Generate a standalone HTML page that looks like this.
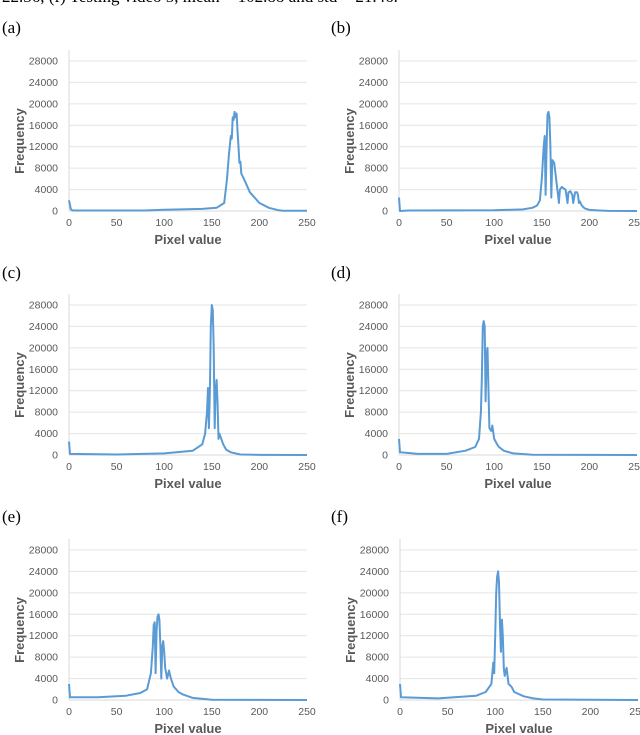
<!DOCTYPE html>
<html><head><meta charset="utf-8">
<style>
body{margin:0;background:#fff;width:640px;height:735px;overflow:hidden;position:relative;font-family:"Liberation Sans",sans-serif}
.lab{position:absolute;font-family:"Liberation Serif",serif;font-size:17px;color:#000}
svg{position:absolute;left:0;top:0}
</style></head><body>
<div class="lab" style="left:2px;top:-13px;white-space:nowrap">22.36, (f) Testing video 5, mean = 102.88 and std = 21.46.</div>
<div class="lab" style="left:2px;top:18px">(a)</div>
<div class="lab" style="left:331px;top:18px">(b)</div>
<div class="lab" style="left:2px;top:263px">(c)</div>
<div class="lab" style="left:331px;top:263px">(d)</div>
<div class="lab" style="left:2px;top:507px">(e)</div>
<div class="lab" style="left:331px;top:507px">(f)</div>
<svg id="s" width="640" height="735"></svg>
<script>
const yTicks=[0,4000,8000,12000,16000,20000,24000,28000];
const xTicks=[0,50,100,150,200,250];
const binsA=[0,2,4,80,100,140,155,163,166,168,170,171,172,173,174,175,176,177,178,179,180,181,185,190,200,210,220,225,250];
const freqA=[2000,300,100,100,250,400,600,1500,6000,10500,14000,13500,17500,17000,18500,17500,18200,15000,12000,9000,9200,7000,5500,3500,1500,600,150,30,30];
const binsB=[0,1,10,100,130,140,145,148,150,152,153,154,155,156,157,158,159,160,161,163,165,167,168,169,171,173,175,177,178,180,182,183,185,187,188,189,190,192,195,200,210,220,250];
const freqB=[2500,0,100,150,300,600,1000,2000,6000,12000,14000,3000,12000,18000,18500,17500,12000,2500,9500,9000,6000,3000,1500,4000,4500,4200,4000,1500,3500,3700,3000,1500,3500,3500,3000,1500,1800,1000,500,200,100,20,0];
const binsC=[0,1,50,100,130,140,143,145,146,147,148,149,150,151,152,153,154,155,156,157,158,160,162,165,170,180,200,250];
const freqC=[2500,200,100,300,800,2000,4000,8000,12500,5000,12000,24000,28000,27000,20000,5000,12000,14000,10000,3000,4000,3000,2000,1000,500,100,20,0];
const binsD=[0,1,20,50,70,80,84,86,87,88,89,90,91,92,93,94,95,97,98,100,103,105,110,120,140,250];
const freqD=[3000,500,200,200,800,1500,3000,8000,14000,24000,25000,24000,10000,19000,20000,12000,5000,4500,5500,3000,2000,1500,800,300,50,0];
const binsE=[0,1,30,60,75,82,86,88,89,90,91,92,93,94,95,96,97,98,99,100,101,103,105,107,110,115,120,130,150,250];
const freqE=[3000,500,500,800,1300,2000,5000,10000,14000,14500,5000,13000,15500,16000,15000,10000,4000,10000,11000,9000,6000,4000,5500,4000,2500,1500,1000,400,50,0];
const binsF=[0,1,40,80,90,96,98,99,100,101,102,103,104,105,106,107,108,109,110,112,114,117,120,130,140,150,250];
const freqF=[3000,500,300,800,1500,3000,7000,5000,12000,20000,23000,24000,22000,14000,9000,15000,12000,6000,4500,6000,3000,2500,1500,700,300,100,0];
const panels=[
 {id:'a',x0:69,y0:211,b:binsA,f:freqA},{id:'b',x0:399,y0:211,b:binsB,f:freqB},
 {id:'c',x0:69,y0:455,b:binsC,f:freqC},{id:'d',x0:399,y0:455,b:binsD,f:freqD},
 {id:'e',x0:69,y0:700,b:binsE,f:freqE},{id:'f',x0:400,y0:700,b:binsF,f:freqF}];
const NS='http://www.w3.org/2000/svg',svg=document.getElementById('s');
const W=238,H=150;
function mk(t,a,txt,p){const e=document.createElementNS(NS,t);for(const k in a)e.setAttribute(k,a[k]);if(txt!=null)e.textContent=txt;(p||svg).appendChild(e);return e;}
panels.forEach(P=>{
 const g=mk('g',{});
 
 
 const sx=v=>P.x0+v/250*W, sy=v=>P.y0-v/28000*H;
 yTicks.forEach(t=>{
  if(t>0){const l=mk('line',{x1:P.x0,x2:P.x0+W,y1:sy(t),y2:sy(t),stroke:'#e4e4e4','stroke-width':1},null,g);
   
   }
  const tx=mk('text',{x:P.x0-11,y:sy(t)+3.5,'text-anchor':'end','font-size':'10.5',fill:'#595959'},t,g);
  
  
 });
 const ax=mk('line',{x1:P.x0,x2:P.x0,y1:P.y0-H-11,y2:P.y0,stroke:'#d9d9d9'},null,g);
 
 
 const bx=mk('line',{x1:P.x0,x2:P.x0+W,y1:P.y0,y2:P.y0,stroke:'#d9d9d9'},null,g);
 
 
 xTicks.forEach(t=>{
  const tx=mk('text',{x:sx(t),y:P.y0+15,'text-anchor':'middle','font-size':'10.5',fill:'#595959'},t,g);
  
  
 });
 const xt=mk('text',{x:P.x0+W/2,y:P.y0+33,'text-anchor':'middle','font-size':'13','font-weight':'bold',fill:'#595959'},'Pixel value',g);
 
 
 const yx=P.x0-45,yy=P.y0-H/2+5;
 const yt=mk('text',{x:yx,y:yy,'text-anchor':'middle','font-size':'13','font-weight':'bold',fill:'#595959',transform:`rotate(-90 ${yx} ${yy})`},'Frequency',g);
 
 
 const pts=P.b.map((b,i)=>sx(b).toFixed(1)+','+sy(P.f[i]).toFixed(1)).join(' ');
 const pl=mk('polyline',{points:pts,fill:'none',stroke:'#5b9bd5','stroke-width':2,'stroke-linejoin':'round'},null,g);
 
 
});
</script>
</body></html>
